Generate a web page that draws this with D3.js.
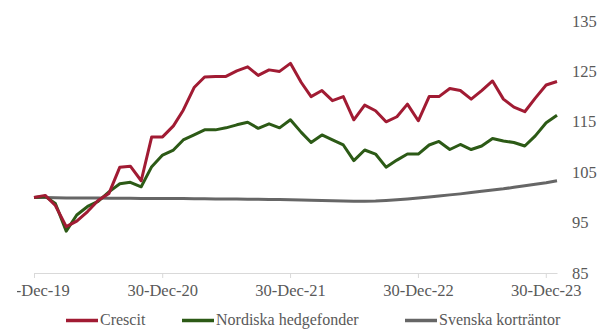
<!DOCTYPE html>
<html>
<head>
<meta charset="utf-8">
<script src="https://cdn.jsdelivr.net/npm/d3@7"></script>
<style>
    body { margin: 0; background: #fff; }
    svg text { font-family: "Liberation Serif", "DejaVu Serif", serif; fill: #595959; }
</style>
</head>
<body>
<div id="chart"></div>
<script>
// monthly values, Dec 2019 .. Jan 2024
var crescit = [100.0, 100.4, 98.4, 94.2, 95.3, 97.2, 99.4, 100.8, 106.0, 106.2,
    103.3, 112.0, 112.0, 114.2, 117.3, 121.8, 123.9, 124.0, 124.0, 125.1,
    125.9, 124.2, 125.3, 125.0, 126.6, 122.8, 120.0, 121.2, 119.2, 120.0,
    115.4, 118.3, 117.2, 115.0, 116.0, 118.5, 115.2, 120.0, 120.0, 121.6,
    121.2, 119.5, 121.2, 123.1, 119.5, 117.9, 117.0, 119.7, 122.3, 123.0];
var nordiska = [100.0, 100.2, 98.8, 93.3, 96.5, 98.2, 99.2, 101.1, 102.7, 103.0,
    102.1, 106.1, 108.4, 109.4, 111.4, 112.4, 113.4, 113.4, 113.8, 114.4,
    114.9, 113.7, 114.6, 113.8, 115.4, 112.9, 110.9, 112.4, 111.4, 110.4,
    107.3, 109.4, 108.6, 106.0, 107.4, 108.6, 108.6, 110.4, 111.1, 109.5,
    110.5, 109.5, 110.2, 111.7, 111.2, 110.9, 110.2, 112.2, 114.8, 116.3];
var svenska = [100.0, 100.0, 99.95, 99.9, 99.9, 99.9, 99.9, 99.85, 99.85, 99.85,
    99.8, 99.8, 99.8, 99.8, 99.8, 99.75, 99.75, 99.7, 99.7, 99.7,
    99.65, 99.65, 99.6, 99.6, 99.55, 99.5, 99.45, 99.4, 99.35, 99.3,
    99.25, 99.25, 99.3, 99.4, 99.55, 99.7, 99.9, 100.1, 100.3, 100.5,
    100.7, 100.95, 101.2, 101.45, 101.7, 102.0, 102.3, 102.6, 102.9, 103.3];
var seriesNames = ["Crescit", "Nordiska hedgefonder", "Svenska korträntor"];
var yTicks = [85, 95, 105, 115, 125, 135];
var xTickDates = ["2019-12-30", "2020-12-30", "2021-12-30", "2022-12-30", "2023-12-30"];

(() => {
    var width = 605;
    var height = 329;
    var colors = ["#a11b33", "#2c5a16", "#666666"];

    var parseDate = d3.timeParse("%Y-%m-%d");
    // month-end dates, first one on 30 Dec 2019
    var dates = crescit.map(function (d, i) {
        if (i === 0) return parseDate("2019-12-30");
        return d3.timeDay.offset(d3.timeMonth.offset(new Date(2020, 0, 1), i), -1);
    });

    var svg = d3.select("#chart")
        .append("svg")
        .attr("width", width)
        .attr("height", height);

    var xScale = d3.scaleTime()
        .domain([parseDate("2019-12-30"), dates[dates.length - 1]])
        .range([34, 557]);

    var yScale = d3.scaleLinear()
        .domain([85, 135])
        .range([273, 21]);

    // first date label is cut on the left like in the original
    svg.append("defs").append("clipPath")
        .attr("id", "xclip")
        .append("rect")
        .attr("x", 17)
        .attr("y", -5)
        .attr("width", width)
        .attr("height", 45);

    // x axis
    var xAxis = d3.axisBottom(xScale)
        .tickValues(xTickDates.map(parseDate))
        .tickFormat(d3.timeFormat("%d-%b-%y"))
        .tickSizeInner(5)
        .tickSizeOuter(0)
        .tickPadding(6);

    var gx = svg.append("g")
        .attr("transform", "translate(0," + yScale(85) + ")")
        .attr("clip-path", "url(#xclip)")
        .call(xAxis);
    gx.select(".domain").attr("stroke", "#d9d9d9").attr("stroke-width", 1);
    gx.selectAll(".tick line").attr("stroke", "#d9d9d9");
    gx.selectAll(".tick text")
        .attr("font-size", "16.5px")
        .attr("font-family", null)
        .attr("fill", null);

    // y axis on the right, labels only
    svg.append("g")
        .selectAll("text")
        .data(yTicks)
        .join("text")
        .attr("x", 572)
        .attr("y", function (d) { return yScale(d) + 5.5; })
        .attr("font-size", "16.5px")
        .text(function (d) { return d; });

    var line = d3.line()
        .x(function (d, i) { return xScale(dates[i]); })
        .y(function (d) { return yScale(d); });

    var allSeries = [svenska, nordiska, crescit];
    var allColors = [colors[2], colors[1], colors[0]];

    svg.selectAll(".series")
        .data(allSeries)
        .join("path")
        .attr("class", "series")
        .attr("d", line)
        .attr("fill", "none")
        .attr("stroke", function (d, i) { return allColors[i]; })
        .attr("stroke-width", 3)
        .attr("stroke-linejoin", "round");

    // legend
    var legendX = [66, 182, 405];
    var legend = svg.append("g")
        .selectAll("g")
        .data(seriesNames)
        .join("g")
        .attr("transform", function (d, i) { return "translate(" + legendX[i] + ",320.5)"; });

    legend.append("line")
        .attr("x1", 0)
        .attr("x2", 32)
        .attr("stroke", function (d, i) { return colors[i]; })
        .attr("stroke-width", 3.5);

    legend.append("text")
        .attr("x", 34)
        .attr("y", 4.5)
        .attr("font-size", "16px")
        .text(function (d) { return d; });
})();
</script>
</body>
</html>
